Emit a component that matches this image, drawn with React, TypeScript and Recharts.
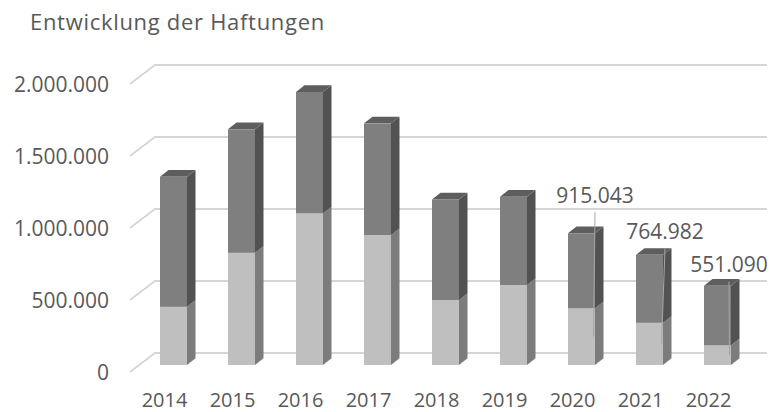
import { BarChart, Bar, XAxis, YAxis, CartesianGrid, LabelList } from "recharts"

const years = ["2014", "2015", "2016", "2017", "2018", "2019", "2020", "2021", "2022"]
const lowerValues = [405000, 780000, 1053000, 903000, 451000, 556000, 394000, 294000, 137000]
const upperValues = [903000, 857000, 843000, 775000, 699000, 613000, 521043, 470982, 414090]
const yTicks = [0, 500000, 1000000, 1500000, 2000000]

const data = years.map((year, i) => ({ year, lower: lowerValues[i], upper: upperValues[i] }))

// depth of a bar and of the floor (front edge / back wall), relative to the bar front plane
const DX = 8.5
const DY = 6.7
const FRONT = { dx: -9, dy: 7 }
const BACK = { dx: 16, dy: -12 }
const TEXT = "#595959"
const FONT = "'Open Sans', sans-serif"

// where the value labels sit (relative to the bar's right front edge and top)
const labelPlace: Record<number, [number, number]> = {
  6: [0, -38],
  7: [2, -23],
  8: [-2, -21],
}

const fmt = (v: number) => String(Math.round(v)).replace(/\B(?=(\d{3})+(?!\d))/g, ".")

function Prism(props: any) {
  const { x, y, width: w, height: h, front, side, top } = props
  if (h == null || w == null) return null
  return (
    <g>
      <polygon points={`${x + w},${y} ${x + w + DX},${y - DY} ${x + w + DX},${y + h - DY} ${x + w},${y + h}`} fill={side} />
      <polygon points={`${x},${y} ${x + DX},${y - DY} ${x + w + DX},${y - DY} ${x + w},${y}`} fill={top} />
      <rect x={x} y={y} width={w} height={h} fill={front} />
    </g>
  )
}

function GridLine(props: any) {
  const { x1, x2, y1 } = props
  const d = `M${x1 + FRONT.dx},${y1 + FRONT.dy} L${x1 + BACK.dx},${y1 + BACK.dy} L${x2 + BACK.dx},${y1 + BACK.dy}`
  return <path key={props.key ?? y1} d={d} fill="none" stroke="#d6d6d6" strokeWidth={1.8} />
}

function YTick(props: any) {
  const { x, y, payload } = props
  return (
    <text x={x - 22} y={y + FRONT.dy + 7.5} textAnchor="end" fill={TEXT} fontSize={21} fontFamily={FONT}>
      {fmt(payload.value)}
    </text>
  )
}

function XTick(props: any) {
  const { x, payload } = props
  return (
    <text x={x - 8.5} y={406.5} textAnchor="middle" fill={TEXT} fontSize={20} fontFamily={FONT}>
      {payload.value}
    </text>
  )
}

function ValueLabel(props: any) {
  const { x, y, width, height, index } = props
  const place = labelPlace[index]
  if (!place) return null
  const total = lowerValues[index] + upperValues[index]
  const k = height / upperValues[index]
  const lowerMid = y + height + (lowerValues[index] * k) / 2
  const lx = x + width + place[0]
  const ly = y + place[1]
  return (
    <g>
      <line x1={lx} y1={ly + 17} x2={x + width - 1.5} y2={lowerMid} stroke="#a6a6a6" strokeWidth={1} />
      <text x={lx} y={ly + 7.5} textAnchor="middle" fill={TEXT} fontSize={21} fontFamily={FONT}>
        {fmt(total)}
      </text>
    </g>
  )
}

export default function App() {
  return (
    <div style={{ position: "absolute", left: 0, top: 0, width: 783, height: 412, background: "#fff" }}>
      <div
        style={{
          position: "absolute",
          left: 30,
          top: 10,
          fontFamily: FONT,
          fontSize: 22,
          letterSpacing: 0.7,
          lineHeight: "22px",
          color: TEXT,
          whiteSpace: "nowrap",
        }}
      >
        Entwicklung der Haftungen
      </div>
      <BarChart width={783} height={412} data={data} margin={{ top: 77, right: 32, bottom: 0, left: 0 }} barSize={27}>
        <CartesianGrid vertical={false} horizontal={(p: any) => <GridLine {...p} />} />
        <XAxis dataKey="year" height={47} axisLine={false} tickLine={false} tick={<XTick />} interval={0} />
        <YAxis
          width={139}
          domain={[0, 2000000]}
          ticks={yTicks}
          axisLine={false}
          tickLine={false}
          tick={<YTick />}
          interval={0}
        />
        <Bar
          dataKey="lower"
          stackId="a"
          isAnimationActive={false}
          shape={(p: any) => <Prism {...p} front="#bfbfbf" side="#7c7c7c" top="#a3a3a3" />}
        />
        <Bar
          dataKey="upper"
          stackId="a"
          isAnimationActive={false}
          shape={(p: any) => <Prism {...p} front="#7f7f7f" side="#525252" top="#5e5e5e" />}
        >
          <LabelList dataKey="upper" content={(p: any) => <ValueLabel {...p} />} />
        </Bar>
      </BarChart>
    </div>
  )
}
